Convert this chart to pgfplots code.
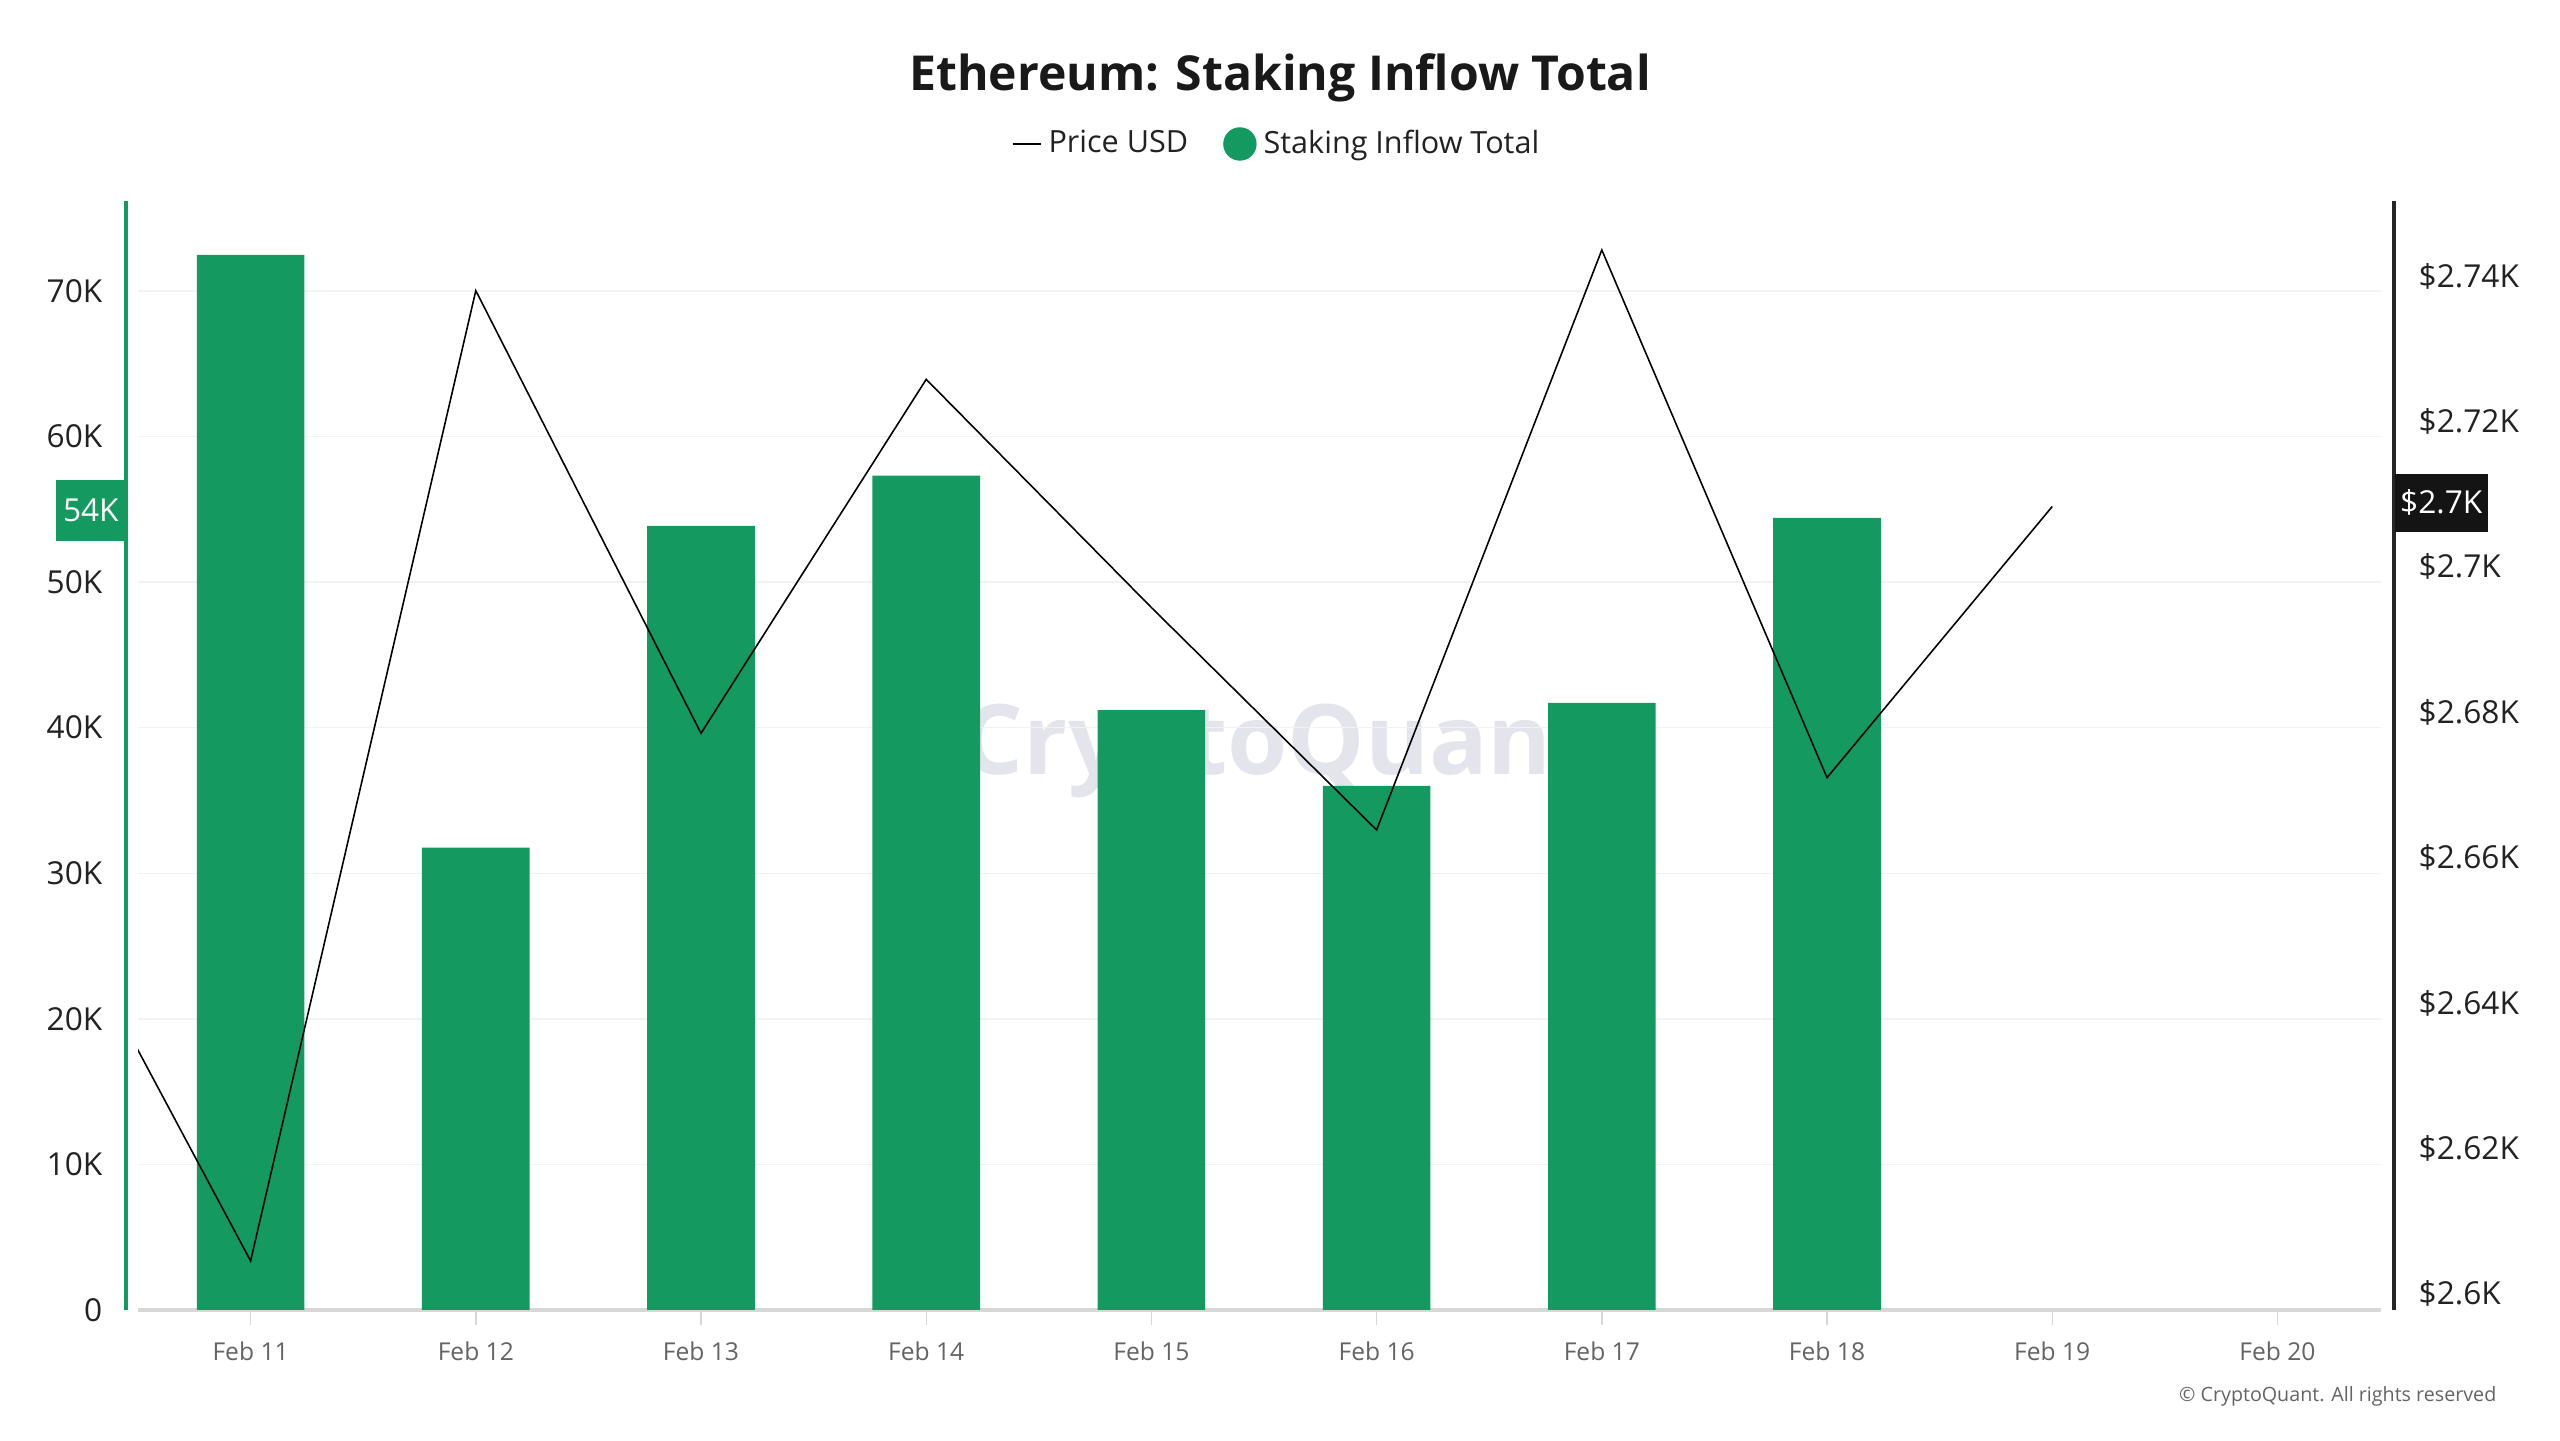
\documentclass[border=0pt]{standalone}
\usepackage{fontspec}
\setmainfont{Open Sans}
\usepackage{pgfplots}
\usepackage{pgfplotstable}
\pgfplotsset{compat=1.18}
\definecolor{cqgreen}{RGB}{20,153,96}
\definecolor{wm}{RGB}{228,228,237}
\definecolor{gridc}{RGB}{242,242,242}
\definecolor{ticklab}{RGB}{34,34,34}
\definecolor{datelab}{RGB}{100,100,100}
\definecolor{axgray}{RGB}{215,215,215}

\pgfplotstableread{
x inflow
11 72470
12 31750
13 53850
14 57300
15 41200
16 36000
17 41700
18 54400
}\inflow

\pgfplotstableread{
x price
10 2.6625
11 2.6045
12 2.7380
13 2.6771
14 2.7258
15 2.6944
16 2.6638
17 2.7436
18 2.6710
19 2.7083
}\price

\begin{document}
\begin{tikzpicture}
\useasboundingbox (0,0) rectangle (25.6,14.4);
% watermark
\node[text=wm, font=\fontsize{27.7}{27.7}\selectfont\bfseries] at (12.78,6.89) {CryptoQuant};
% title
\node[font=\fontsize{13.7}{13.7}\selectfont\bfseries, text=black!90] at (12.8,13.62) {Ethereum: Staking Inflow Total};
% copyright
\node[anchor=east, font=\fontsize{5.6}{5.6}\selectfont, text=datelab, inner sep=0pt] at (24.97,0.44) {© CryptoQuant. All rights reserved};

\begin{axis}[
  at={(1.38cm,1.30cm)}, anchor=south west,
  scale only axis, width=22.43cm, height=11.09cm,
  xmin=10.5, xmax=20.46, ymin=0, ymax=76170,
  axis x line*=bottom, axis y line*=left,
  x axis line style={draw=axgray, line width=0.9pt, -},
  y axis line style={draw=none},
  scaled y ticks=false,
  xtick={11,12,13,14,15,16,17,18,19,20},
  xticklabels={Feb 11,Feb 12,Feb 13,Feb 14,Feb 15,Feb 16,Feb 17,Feb 18,Feb 19,Feb 20},
  ytick={0,10000,20000,30000,40000,50000,60000,70000},
  yticklabels={0,10K,20K,30K,40K,50K,60K,70K},
  ymajorgrids, grid style={gridc, line width=0.4pt},
  tick align=outside, major tick length=0.15cm,
  xtick style={draw=axgray, line width=0.4pt},
  ytick style={draw=none},
  xticklabel style={font=\fontsize{7}{7}\selectfont, text=datelab, inner sep=0pt, yshift=-0.16cm},
  yticklabel style={font=\fontsize{9}{9}\selectfont, text=ticklab, inner sep=0pt, anchor=east, xshift=-0.20cm},
  clip mode=individual,
]
\addplot[ybar, bar width=0.478, fill=cqgreen, draw=none] table[x=x,y=inflow]{\inflow};
\draw[cqgreen, line width=0.9pt] ([xshift=-0.12cm]rel axis cs:0,0) -- ([xshift=-0.12cm]rel axis cs:0,1);
\node[fill=cqgreen, text=white, anchor=east, minimum height=0.61cm, minimum width=0.69cm, inner sep=0pt, font=\fontsize{9}{9}\selectfont] at ([xshift=-0.12cm]axis cs:10.5,54900) {54K};
\end{axis}

\begin{axis}[
  at={(1.38cm,1.30cm)}, anchor=south west,
  scale only axis, width=22.43cm, height=11.09cm,
  xmin=10.5, xmax=20.46, ymin=2.59775, ymax=2.75034,
  axis y line*=right, axis x line=none,
  y axis line style={draw=none},
  scaled y ticks=false,
  ytick={2.6,2.62,2.64,2.66,2.68,2.7,2.72,2.74},
  yticklabels={\$2.6K,\$2.62K,\$2.64K,\$2.66K,\$2.68K,\$2.7K,\$2.72K,\$2.74K},
  ytick style={draw=none},
  tick align=outside, major tick length=0.15cm,
  yticklabel style={font=\fontsize{9}{9}\selectfont, text=ticklab, inner sep=0pt, anchor=west, xshift=0.22cm},
  clip mode=individual,
  legend style={at={(0.5087,1.0514)}, anchor=center, draw=none, fill=none, legend columns=2,
    font=\fontsize{8.7}{8.7}\selectfont, text=ticklab,
    /tikz/every even column/.append style={column sep=0.28cm}},
]
\addplot[black, line width=0.45pt, legend image code/.code={\draw[black, line width=0.5pt] (0cm,0cm) -- (0.28cm,0cm);}] table[x=x,y=price]{\price};
\addlegendentry{Price USD}
\addlegendimage{legend image code/.code={\fill[cqgreen] (0.16cm,0cm) circle (0.16cm);}}
\addlegendentry{Staking Inflow Total}
\draw[black!85, line width=0.9pt] ([xshift=0.13cm]rel axis cs:1,0) -- ([xshift=0.13cm]rel axis cs:1,1);
\node[fill=black!92, text=white, anchor=west, minimum height=0.58cm, minimum width=0.93cm, inner sep=0pt, font=\fontsize{9}{9}\selectfont] at ([xshift=0.13cm]axis cs:20.46,2.7088) {\$2.7K};
\end{axis}
\end{tikzpicture}
\end{document}
